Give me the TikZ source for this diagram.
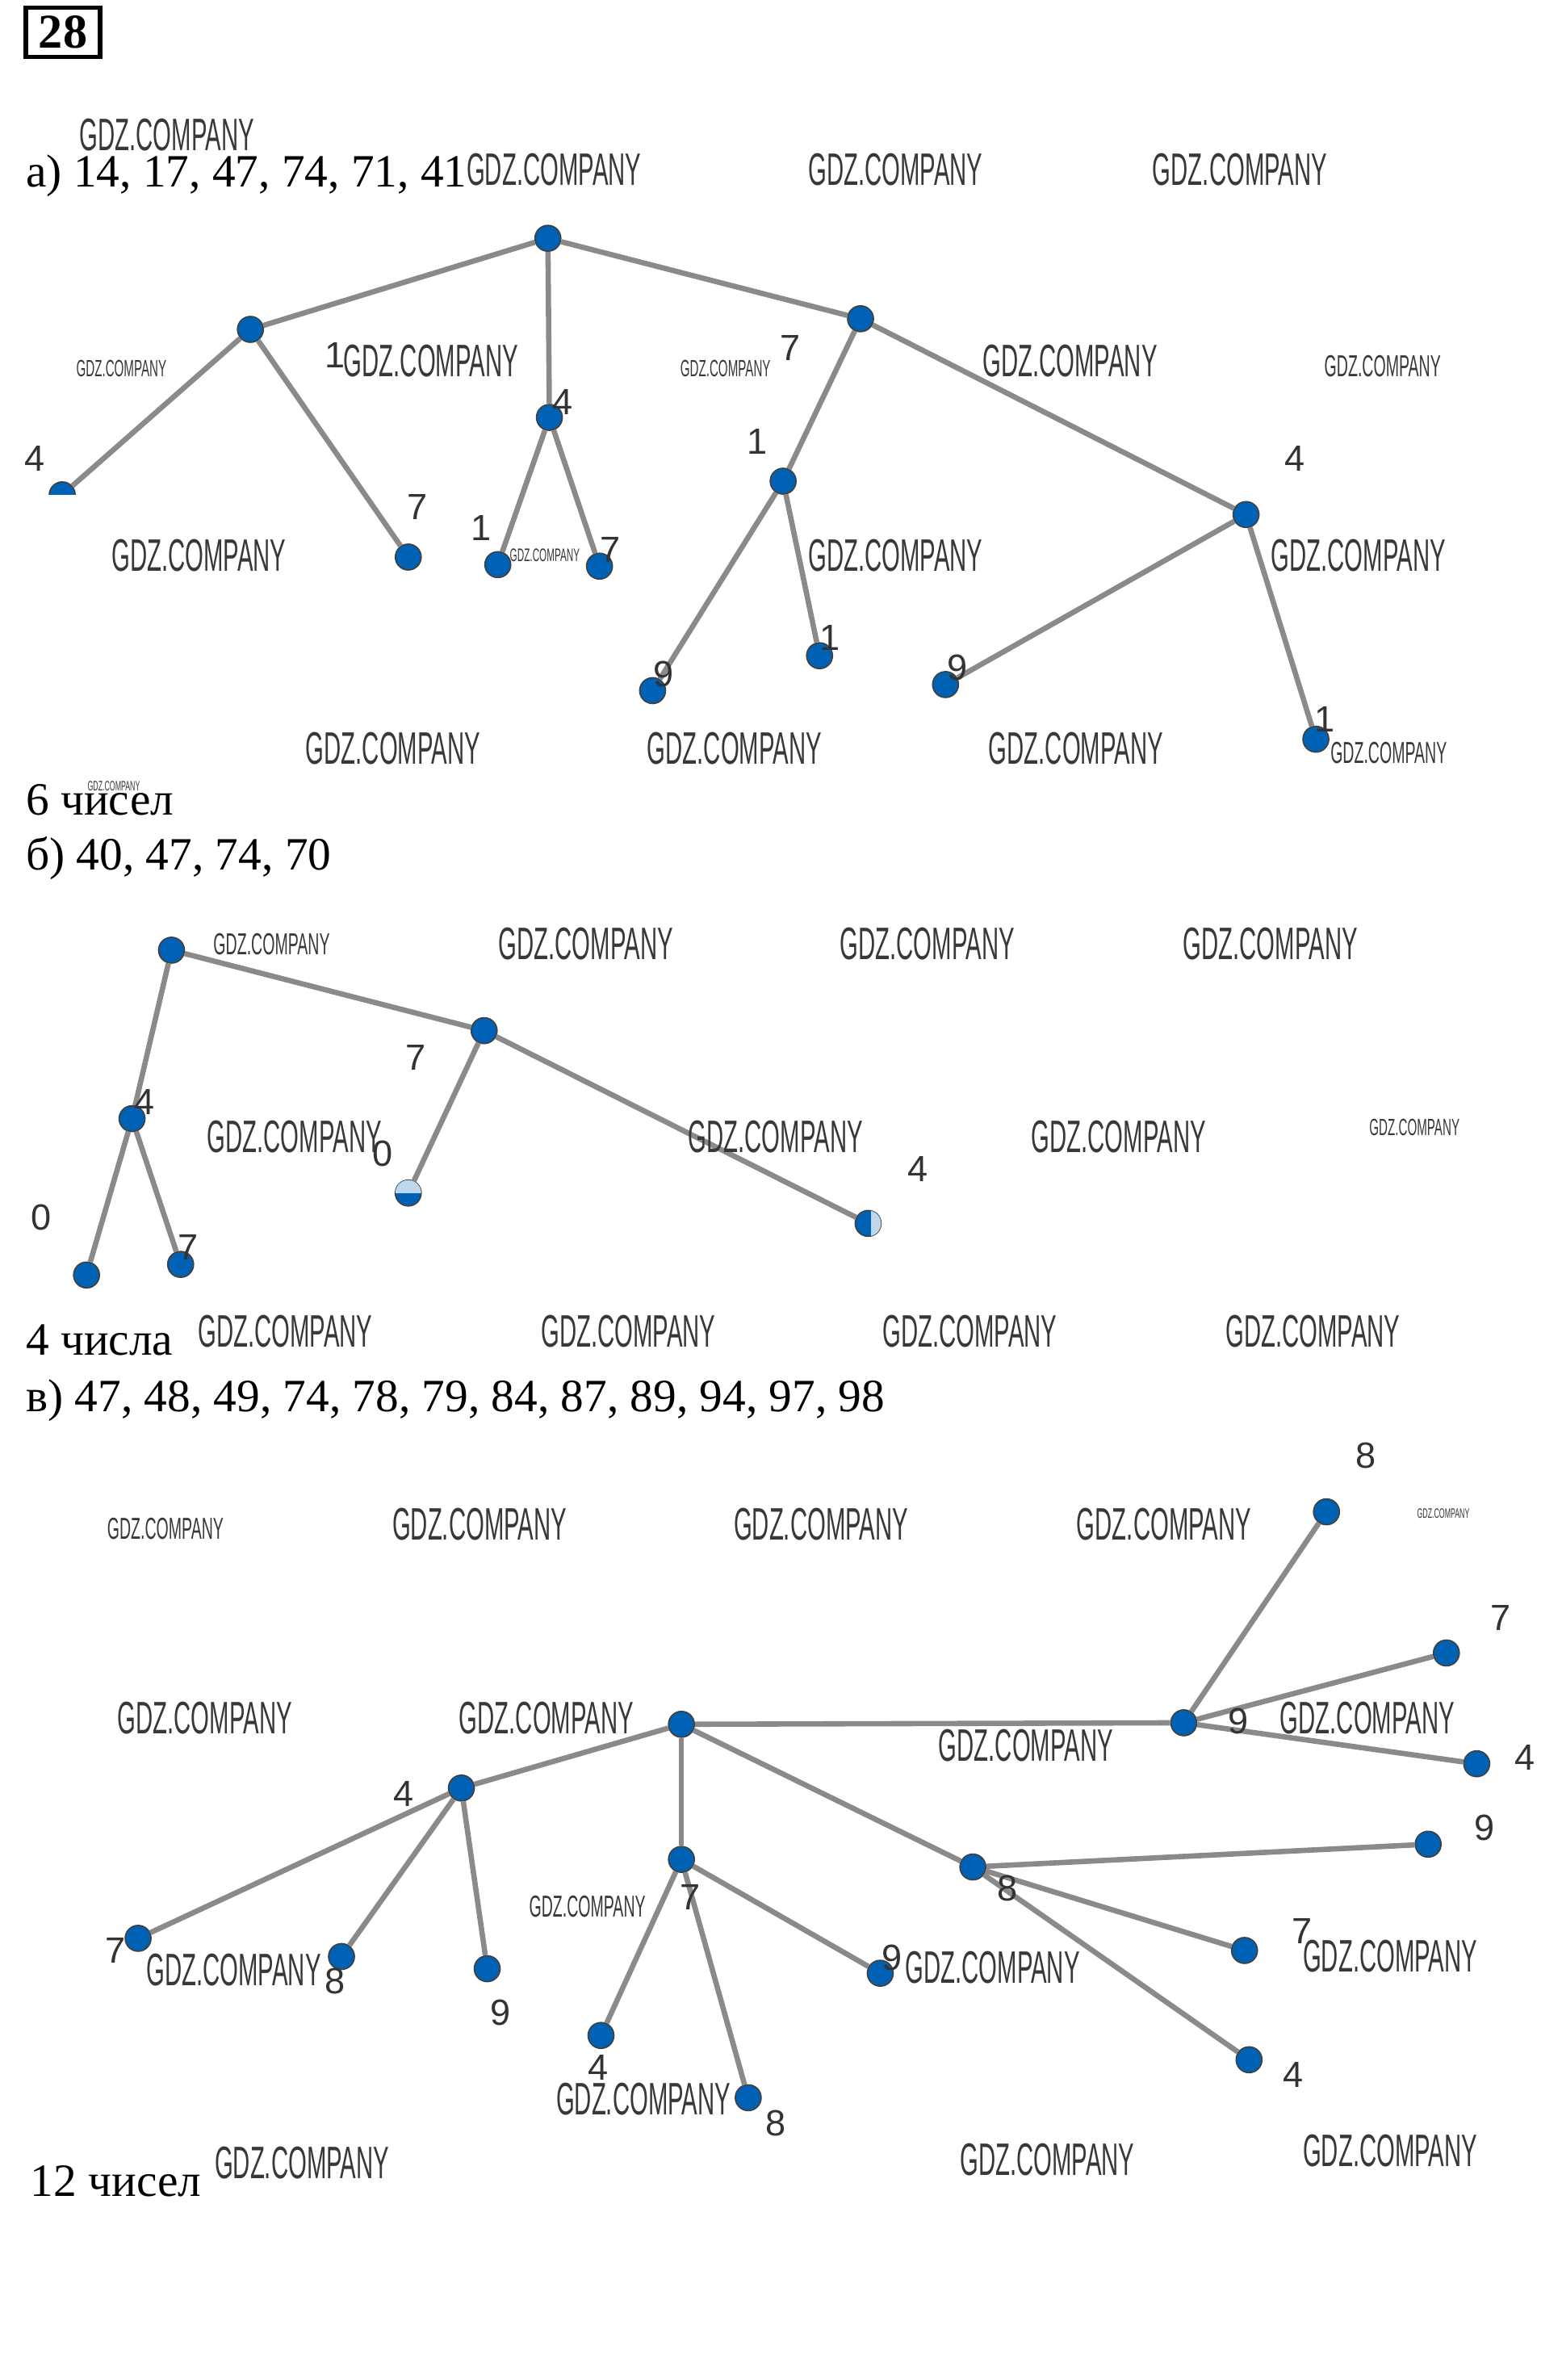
\documentclass[tikz,border=0pt]{standalone}
\usepackage{fontspec}
\setmainfont{Liberation Serif}
\newfontfamily\wmfont[FakeStretch=0.52]{Liberation Sans}
\newfontfamily\labfont{Liberation Sans}
\definecolor{nodeblue}{RGB}{0,98,180}
\definecolor{fadeblue}{RGB}{190,214,238}
\definecolor{edgegray}{RGB}{138,138,138}
\newcommand\wmark[3]{\node[wm, font=\wmfont\fontsize{#3}{#3}\selectfont] (#1) at (#2) {GDZ.COMPANY};}
\begin{document}
\begin{tikzpicture}[x=1pt,y=-1pt,
  vtx/.style={circle, fill=nodeblue, draw=black!75, line width=0.9pt, minimum size=17pt, inner sep=0pt},
  edge/.style={draw=edgegray, line width=3.5pt},
  lab/.style={font=\labfont\fontsize{24}{24}\selectfont, text=black!80, inner sep=0pt},
  txt/.style={font=\fontsize{30.5}{34}\selectfont, inner sep=0pt, anchor=base west},
  wm/.style={text=black!78, inner sep=0pt}]
\fill[white] (0,0) rectangle (1029,1568);
\useasboundingbox (0,0) rectangle (1029,1568);

% header box
\node[draw, line width=2.8pt, minimum width=49pt, minimum height=32.5pt, inner sep=0pt,
  font=\bfseries\fontsize{32}{32}\selectfont] (num) at (41.5,21.3) {28};

% texts
\node[txt] (ta) at (17,123) {а) 14, 17, 47, 74, 71, 41};
\node[txt] (ra6) at (17,537) {6 чисел};
\node[txt] (tb) at (17,573) {б) 40, 47, 74, 70};
\node[txt] (rb4) at (17,893) {4 числа};
\node[txt] (tc) at (17,930) {в) 47, 48, 49, 74, 78, 79, 84, 87, 89, 94, 97, 98};
\node[txt] (rc12) at (20,1447) {12 чисел};

% ---------- tree a ----------
\node[vtx] (ra) at (361,157) {};
\node[vtx] (a1) at (165,217) {};
\node[vtx] (a4) at (362,275) {};
\node[vtx] (a7) at (567,210) {};
\node[vtx] (a14) at (41,326) {};
\node[vtx] (a17) at (269,367) {};
\node[vtx] (a41) at (328,372) {};
\node[vtx] (a47) at (395,373) {};
\node[vtx] (a71) at (516,317) {};
\node[vtx] (a74) at (821,339) {};
\node[vtx] (a719) at (430,455) {};
\node[vtx] (a711) at (540,432) {};
\node[vtx] (a749) at (623,451) {};
\node[vtx] (a741) at (867,487) {};
\foreach \p/\c in {ra/a1, ra/a4, ra/a7, a1/a14, a1/a17, a4/a41, a4/a47, a7/a71, a7/a74, a71/a719, a71/a711, a74/a749, a74/a741}
  \draw[edge] (\p) -- (\c);
% lower half of the leaf a14 is erased in the picture
\fill[white] ([xshift=-11pt]a14.center) rectangle ([xshift=11pt,yshift=-11pt]a14.center);
\node[lab] (la1) at (221,234) {1};
\node[lab] (la4) at (371,265) {4};
\node[lab] (la7) at (521,229) {7};
\node[lab] (la14) at (23,302) {4};
\node[lab] (la17) at (275,334) {7};
\node[lab] (la41) at (317,348) {1};
\node[lab] (la47) at (402,362) {7};
\node[lab] (la71) at (499,291) {1};
\node[lab] (la74) at (853,302) {4};
\node[lab] (la719) at (437,444) {9};
\node[lab] (la711) at (547,420) {1};
\node[lab] (la749) at (631,440) {9};
\node[lab] (la741) at (873,474) {1};

% ---------- tree b ----------
\node[vtx] (rb) at (113,626) {};
\node[vtx] (b4) at (87,737) {};
\node[vtx] (b7) at (319,679) {};
\node[vtx] (b40) at (57,840) {};
\node[vtx] (b47) at (119,833) {};
\node[vtx] (b70) at (269,786) {};
\node[vtx] (b74) at (572,806) {};
\foreach \p/\c in {rb/b4, rb/b7, b4/b40, b4/b47, b7/b70, b7/b74}
  \draw[edge] (\p) -- (\c);
% faded parts of two leaves
\begin{scope}
  \clip ([xshift=-10pt]b70.center) rectangle ([xshift=10pt,yshift=10pt]b70.center);
  \fill[fadeblue] (b70.center) circle[radius=8.5pt];
\end{scope}
\begin{scope}
  \clip ([xshift=2pt,yshift=-10pt]b74.center) rectangle ([xshift=10pt,yshift=10pt]b74.center);
  \fill[fadeblue] (b74.center) circle[radius=8.5pt];
\end{scope}
\node[lab] (lb4) at (95,726) {4};
\node[lab] (lb7) at (274,697) {7};
\node[lab] (lb40) at (27,802) {0};
\node[lab] (lb47) at (124,822) {7};
\node[lab] (lb70) at (252,760) {0};
\node[lab] (lb74) at (605,770) {4};

% ---------- tree c ----------
\node[vtx] (rc) at (449,1136) {};
\node[vtx] (c4) at (304,1178) {};
\node[vtx] (c7) at (449,1225) {};
\node[vtx] (c8) at (641,1230) {};
\node[vtx] (c9) at (780,1135) {};
\node[vtx] (c47) at (91,1277) {};
\node[vtx] (c48) at (225,1289) {};
\node[vtx] (c49) at (321,1297) {};
\node[vtx] (c74) at (396,1341) {};
\node[vtx] (c78) at (493,1382) {};
\node[vtx] (c79) at (580,1300) {};
\node[vtx] (c89) at (941,1215) {};
\node[vtx] (c87) at (820,1285) {};
\node[vtx] (c84) at (823,1357) {};
\node[vtx] (c98) at (874,996) {};
\node[vtx] (c97) at (953,1089) {};
\node[vtx] (c94) at (973,1162) {};
\foreach \p/\c in {rc/c4, rc/c7, rc/c8, rc/c9, c4/c47, c4/c48, c4/c49, c7/c74, c7/c78, c7/c79, c8/c89, c8/c87, c8/c84, c9/c98, c9/c97, c9/c94}
  \draw[edge] (\p) -- (\c);
\node[lab] (lc4) at (266,1182) {4};
\node[lab] (lc7) at (455,1250) {7};
\node[lab] (lc8) at (664,1244) {8};
\node[lab] (lc9) at (816,1134) {9};
\node[lab] (lc47) at (76,1285) {7};
\node[lab] (lc48) at (221,1305) {8};
\node[lab] (lc49) at (330,1326) {9};
\node[lab] (lc74) at (394,1362) {4};
\node[lab] (lc78) at (511,1399) {8};
\node[lab] (lc79) at (588,1290) {9};
\node[lab] (lc89) at (978,1204) {9};
\node[lab] (lc87) at (858,1272) {7};
\node[lab] (lc84) at (852,1367) {4};
\node[lab] (lc98) at (900,959) {8};
\node[lab] (lc97) at (989,1066) {7};
\node[lab] (lc94) at (1005,1158) {4};

% ---------- watermarks ----------
\wmark{w1}{110,89}{30}
\wmark{w2}{365,112}{30}
\wmark{w3}{590,112}{30}
\wmark{w4}{817,112}{30}
\wmark{w5}{80,243}{15.5}
\wmark{w6}{284,238}{30}
\wmark{w7}{478,243}{15.5}
\wmark{w8}{705,238}{30}
\wmark{w9}{911,241}{20}
\wmark{w10}{131,366}{30}
\wmark{w11}{359,366}{12}
\wmark{w12}{590,366}{30}
\wmark{w13}{895,366}{30}
\wmark{w14}{259,493}{30}
\wmark{w15}{484,493}{30}
\wmark{w16}{709,493}{30}
\wmark{w17}{915,496}{20}
\wmark{w18}{75,518}{9}
\wmark{w19}{179,622}{20}
\wmark{w20}{386,622}{30}
\wmark{w21}{611,622}{30}
\wmark{w22}{837,622}{30}
\wmark{w23}{194,749}{30}
\wmark{w24}{511,749}{30}
\wmark{w25}{737,749}{30}
\wmark{w26}{932,743}{15.5}
\wmark{w27}{188,877}{30}
\wmark{w28}{414,877}{30}
\wmark{w29}{639,877}{30}
\wmark{w30}{865,877}{30}
\wmark{w31}{109,1007}{20}
\wmark{w32}{316,1004}{30}
\wmark{w33}{541,1004}{30}
\wmark{w34}{767,1004}{30}
\wmark{w35}{951,997}{9}
\wmark{w36}{135,1132}{30}
\wmark{w37}{360,1132}{30}
\wmark{w38}{676,1150}{30}
\wmark{w39}{901,1132}{30}
\wmark{w40}{387,1256}{20}
\wmark{w41}{154,1298}{30}
\wmark{w42}{654,1296}{30}
\wmark{w43}{916,1289}{30}
\wmark{w44}{424,1383}{30}
\wmark{w45}{199,1425}{30}
\wmark{w46}{690,1423}{30}
\wmark{w47}{916,1417}{30}
\end{tikzpicture}
\end{document}
